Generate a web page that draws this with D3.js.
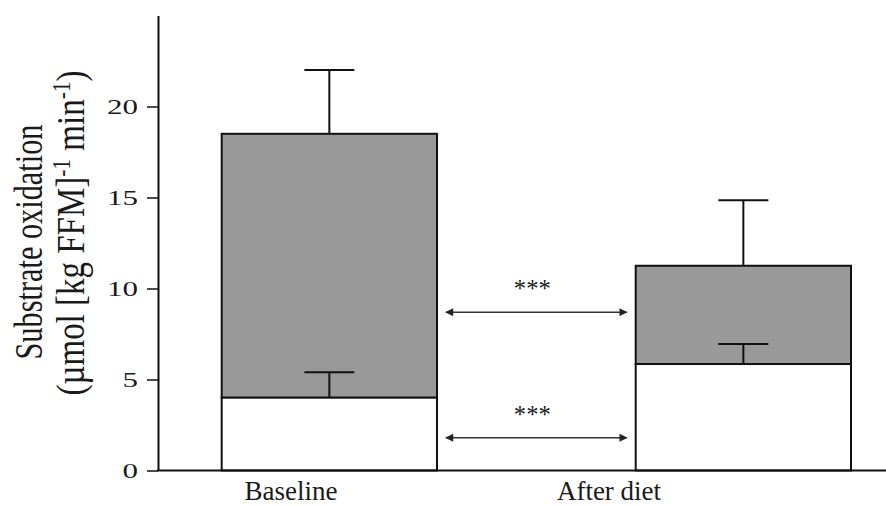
<!DOCTYPE html>
<html>
<head>
<meta charset="utf-8">
<script src="https://cdn.jsdelivr.net/npm/d3@7"></script>
<style>
  html, body { margin: 0; padding: 0; background: #fff; }
  svg { display: block; }
  text { font-family: "Liberation Serif", "Times New Roman", serif; fill: #1a1a1a; }
</style>
</head>
<body>
<svg id="chart" width="886" height="507"></svg>
<script>
// Stacked substrate oxidation, mean + error per condition
const categories = ["Baseline", "After diet"];
const lowerValues = [4.0, 5.85];   // white (bottom) segment
const lowerErrors = [1.4, 1.1];
const upperValues = [14.5, 5.4];   // grey (top) segment
const upperErrors = [3.5, 3.6];
const yTicks = [0, 5, 10, 15, 20];
const sigLevels = [8.7, 1.8];      // heights of the comparison arrows
const sigLabels = ["***", "***"];

const svg = d3.select("#chart");

const y = d3.scaleLinear().domain([0, 25]).range([470.5, 15.5]);
const x = d3.scaleBand().domain(categories).range([180.3, 892.4])
  .paddingInner(0.48).paddingOuter(0.1);
const xLabel = d3.scalePoint().domain(categories).range([291, 609]);

// Bars
const rows = categories.map((c, i) => ({
  cat: c,
  low: lowerValues[i],
  lowErr: lowerErrors[i],
  top: lowerValues[i] + upperValues[i],
  topErr: upperErrors[i]
}));

const g = svg.append("g");

// Error bars (drawn first so bar outlines sit over stems)
const capW = 50;
rows.forEach(r => {
  const cx = x(r.cat) + x.bandwidth() / 2;
  [[r.top, r.topErr], [r.low, r.lowErr]].forEach(([v, e]) => {
    g.append("line").attr("x1", cx).attr("x2", cx)
      .attr("y1", y(v)).attr("y2", y(v + e))
      .attr("stroke", "#111").attr("stroke-width", 2);
    g.append("line").attr("x1", cx - capW / 2).attr("x2", cx + capW / 2)
      .attr("y1", y(v + e)).attr("y2", y(v + e))
      .attr("stroke", "#111").attr("stroke-width", 2);
  });
});

g.selectAll("rect.upper").data(rows).join("rect")
  .attr("class", "upper")
  .attr("x", d => x(d.cat)).attr("width", x.bandwidth())
  .attr("y", d => y(d.top)).attr("height", d => y(d.low) - y(d.top))
  .attr("fill", "#999").attr("stroke", "#111").attr("stroke-width", 2);

g.selectAll("rect.lower").data(rows).join("rect")
  .attr("class", "lower")
  .attr("x", d => x(d.cat)).attr("width", x.bandwidth())
  .attr("y", d => y(d.low)).attr("height", d => y(0) - y(d.low))
  .attr("fill", "#fff").attr("stroke", "#111").attr("stroke-width", 2);

// redraw lower error stems over the white segment edge
rows.forEach(r => {
  const cx = x(r.cat) + x.bandwidth() / 2;
  g.append("line").attr("x1", cx).attr("x2", cx)
    .attr("y1", y(r.low)).attr("y2", y(r.low + r.lowErr))
    .attr("stroke", "#111").attr("stroke-width", 2);
  g.append("line").attr("x1", cx - capW / 2).attr("x2", cx + capW / 2)
    .attr("y1", y(r.low + r.lowErr)).attr("y2", y(r.low + r.lowErr))
    .attr("stroke", "#111").attr("stroke-width", 2);
});

// Comparison arrows
const defs = svg.append("defs");
defs.append("marker").attr("id", "head")
  .attr("viewBox", "0 0 10 10").attr("refX", 9).attr("refY", 5)
  .attr("markerWidth", 10).attr("markerHeight", 8)
  .attr("markerUnits", "userSpaceOnUse")
  .attr("orient", "auto-start-reverse")
  .append("path").attr("d", "M0,0 L10,5 L0,10 Z").attr("fill", "#222");

const ax0 = x(categories[0]) + x.bandwidth() + 9;
const ax1 = x(categories[1]) - 9;
sigLevels.forEach((v, i) => {
  svg.append("line")
    .attr("x1", ax0).attr("x2", ax1).attr("y1", y(v)).attr("y2", y(v))
    .attr("stroke", "#333").attr("stroke-width", 1.5)
    .attr("marker-start", "url(#head)").attr("marker-end", "url(#head)");
  svg.append("text")
    .attr("x", (ax0 + ax1) / 2 - 4).attr("y", y(v) - 14.7)
    .attr("text-anchor", "middle")
    .attr("font-size", 26)
    .attr("textLength", 37).attr("lengthAdjust", "spacingAndGlyphs")
    .attr("fill", "#444")
    .text(sigLabels[i]);
});

// Y axis
const yAxis = svg.append("g").attr("transform", "translate(158,0)")
  .call(d3.axisLeft(y).tickValues(yTicks).tickSize(11).tickPadding(9).tickSizeOuter(0));
yAxis.select(".domain").attr("stroke", "#111").attr("stroke-width", 2);
yAxis.selectAll(".tick line").attr("stroke", "#111").attr("stroke-width", 1.5);
yAxis.selectAll(".tick text")
  .attr("font-family", "Liberation Serif, serif")
  .attr("font-size", 22)
  .attr("fill", "#222")
  .attr("textLength", d => String(d).length * 15.5)
  .attr("lengthAdjust", "spacingAndGlyphs");

// X axis line
svg.append("line").attr("x1", 157).attr("x2", 886)
  .attr("y1", y(0)).attr("y2", y(0))
  .attr("stroke", "#111").attr("stroke-width", 2);

// Category labels
svg.selectAll("text.cat").data(categories).join("text")
  .attr("class", "cat")
  .attr("x", d => xLabel(d)).attr("y", 500)
  .attr("text-anchor", "middle")
  .attr("font-size", 27)
  .text(d => d);

// Y axis title (two lines)
const t1 = svg.append("text")
  .attr("transform", "translate(42,242) rotate(-90)")
  .attr("text-anchor", "middle")
  .attr("font-size", 40)
  .attr("textLength", 235).attr("lengthAdjust", "spacingAndGlyphs")
  .text("Substrate oxidation");

const t2 = svg.append("text")
  .attr("transform", "translate(84,233) rotate(-90)")
  .attr("text-anchor", "middle")
  .attr("font-size", 40)
  .attr("textLength", 325).attr("lengthAdjust", "spacingAndGlyphs");
t2.append("tspan").text("(µmol [kg FFM]");
t2.append("tspan").attr("font-size", 26).attr("dy", -14).text("-1");
t2.append("tspan").attr("dy", 14).text(" min");
t2.append("tspan").attr("font-size", 26).attr("dy", -14).text("-1");
t2.append("tspan").attr("dy", 14).text(")");
</script>
</body>
</html>
